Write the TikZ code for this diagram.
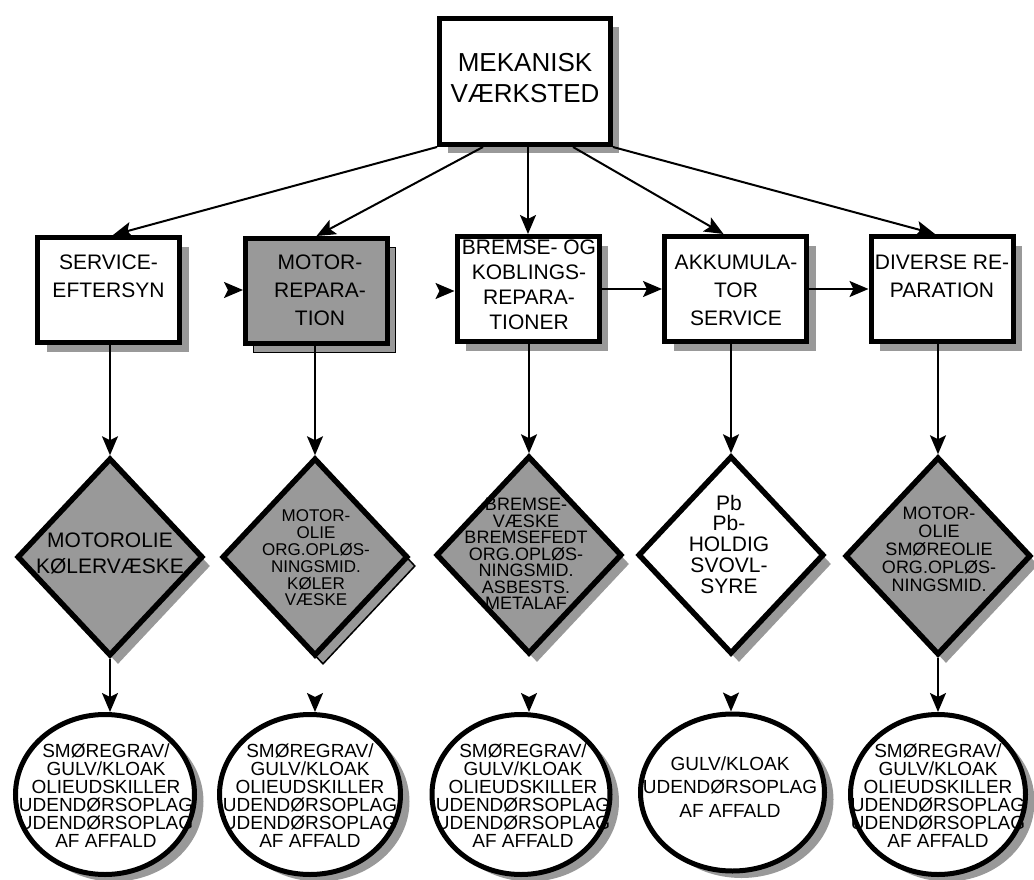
\documentclass[tikz,border=0pt]{standalone}
\usepackage{fontspec}
\setmainfont{Liberation Sans}
\usetikzlibrary{shapes.geometric,shadows,arrows.meta,backgrounds}
\definecolor{shadowgray}{RGB}{153,153,153}
\newcommand{\txtsize}[2]{\fontsize{#1}{#2}\selectfont}

\begin{document}
\begin{tikzpicture}[x=1pt,y=-1pt,
  flatshadow/.style={drop shadow={shadow xshift=#1, shadow yshift=-9pt, fill=shadowgray, opacity=1}},
  stackshadow/.style={general shadow={shadow xshift=8pt, shadow yshift=-9pt, fill=shadowgray, draw=black, line width=1.5pt}},
  boxbase/.style={rectangle, draw=black, line width=5pt, inner sep=0pt,
    minimum width=142pt, minimum height=105pt},
  procbox/.style={boxbase, fill=white, flatshadow=9pt},
  stackbox/.style={boxbase, fill=shadowgray, stackshadow},
  headbox/.style={boxbase, fill=white, minimum width=171pt, minimum height=126pt, flatshadow=8pt},
  diabase/.style={diamond, draw=black, line width=5.5pt, inner sep=0pt,
    minimum width=186pt, minimum height=198pt},
  waste/.style={diabase, fill=shadowgray, flatshadow=8pt},
  wastestack/.style={diabase, fill=shadowgray, stackshadow},
  cleanwaste/.style={diabase, fill=white, flatshadow=8pt},
  site/.style={ellipse, draw=black, line width=5pt, fill=white, inner sep=0pt,
    minimum height=160pt,
    drop shadow={shadow xshift=9pt, shadow yshift=-7pt, fill=shadowgray, opacity=1}},
  lbl/.style={align=center, inner sep=0pt},
  flow/.style={line width=2pt, -{Stealth[length=19pt, width=16pt, inset=4pt]}},
  headonly/.style={line width=2pt, draw=white,
    -{Stealth[length=19pt, width=16pt, inset=4pt, color=black]}}
]
\path[use as bounding box] (0,0) rectangle (1034,880);

% head of the tree
\node[headbox] (top) at (525,81.5) {};

% work areas
\node[procbox]  (svc)   at (108.5,290) {};
\node[stackbox] (motor) at (316.5,291) {};
\node[procbox]  (brk)   at (528,289) {};
\node[procbox]  (akk)   at (735.5,289) {};
\node[procbox]  (div)   at (942,289) {};

% waste types
\node[waste]      (d1) at (110,557) {};
\node[wastestack] (d2) at (315,557) {};
\node[waste]      (d3) at (529,555) {};
\node[cleanwaste] (d4) at (731,555) {};
\node[waste]      (d5) at (938,556) {};

% where the waste ends up
\node[site, minimum width=179pt] (e1) at (105,794.5) {};
\node[site, minimum width=181pt] (e2) at (310,794.5) {};
\node[site, minimum width=178pt] (e3) at (521,794.5) {};
\node[site, minimum width=184pt, minimum height=157pt] (e4) at (732.5,792.5) {};
\node[site, minimum width=175pt] (e5) at (938,794.5) {};

% connectors whose line is hidden, only the head shows
\begin{pgfonlayer}{background}
  \draw[headonly] (svc.east) -- (motor.west |- svc.east);
  \draw[headonly] (motor.east) -- (brk.west |- motor.east);
  \draw[headonly] (d2.south) -- (d2.south |- e2.north);
  \draw[headonly] (d3.south) -- (d3.south |- e3.north);
  \draw[headonly] (d4.south) -- (d4.south |- e4.north);
\end{pgfonlayer}

% fan-out from the head
\draw[flow] (top.south west) -- ([xshift=4.5pt]svc.north);
\draw[flow] ([xshift=46pt]top.south west) -- (motor.north);
\draw[flow] (brk.north |- top.south) -- (brk.north);
\draw[flow] ([xshift=136pt]top.south west) -- ([xshift=-12pt]akk.north);
\draw[flow] (top.south east) -- ([xshift=-7pt]div.north);

% chain between the work areas
\draw[flow] (brk.east) -- (akk.west |- brk.east);
\draw[flow] (akk.east) -- (div.west |- akk.east);

% work area to waste type
\draw[flow] (d1.north |- svc.south) -- (d1.north);
\draw[flow] (d2.north |- motor.south) -- (d2.north);
\draw[flow] (d3.north |- brk.south) -- (d3.north);
\draw[flow] (d4.north |- akk.south) -- (d4.north);
\draw[flow] (d5.north |- div.south) -- (d5.north);

% waste type to site
\draw[flow] (d1.south) -- (d1.south |- e1.north);
\draw[flow] (d5.south) -- (d5.south |- e5.north);

% texts
\node[lbl, font=\txtsize{26}{31}] (toptxt) at (525,78) {MEKANISK\\VÆRKSTED};

\node[lbl, anchor=north, font=\txtsize{21}{28}] (svctxt) at (108.5,255) {SERVICE-\\EFTERSYN};
\node[lbl, anchor=north, font=\txtsize{21}{28}] (motortxt) at (320,255) {MOTOR-\\REPARA-\\TION};
\node[lbl, anchor=north, font=\txtsize{21}{25}] (brktxt) at (529,240) {BREMSE- OG\\KOBLINGS-\\REPARA-\\TIONER};
\node[lbl, anchor=north, font=\txtsize{21}{28}] (akktxt) at (736,255) {AKKUMULA-\\TOR\\SERVICE};
\node[lbl, anchor=north, font=\txtsize{21}{28}] (divtxt) at (942,255) {DIVERSE RE-\\PARATION};

\node[lbl, font=\txtsize{21}{26}] (d1txt) at (110,553.5) {MOTOROLIE\\KØLERVÆSKE};
\node[lbl, font=\txtsize{17}{16.8}] (d2txt) at (316,558) {MOTOR-\\OLIE\\ORG.OPLØS-\\NINGSMID.\\KØLER\\VÆSKE};
\node[lbl, font=\txtsize{18}{16.5}] (d3txt) at (526,554) {BREMSE-\\VÆSKE\\BREMSEFEDT\\ORG.OPLØS-\\NINGSMID.\\ASBESTS.\\METALAF};
\node[lbl, font=\txtsize{21}{20.75}] (d4txt) at (729,544) {Pb\\Pb-\\HOLDIG\\SVOVL-\\SYRE};
\node[lbl, font=\txtsize{18}{18}] (d5txt) at (939,549.5) {MOTOR-\\OLIE\\SMØREOLIE\\ORG.OPLØS-\\NINGSMID.};

\node[lbl, font=\txtsize{19}{18}] (e1txt) at (106,796) {SMØREGRAV/\\GULV/KLOAK\\OLIEUDSKILLER\\UDENDØRSOPLAG\\UDENDØRSOPLAG\\AF AFFALD};
\node[lbl, font=\txtsize{19}{18}] (e2txt) at (310,796) {SMØREGRAV/\\GULV/KLOAK\\OLIEUDSKILLER\\UDENDØRSOPLAG\\UDENDØRSOPLAG\\AF AFFALD};
\node[lbl, font=\txtsize{19}{18}] (e3txt) at (523,796) {SMØREGRAV/\\GULV/KLOAK\\OLIEUDSKILLER\\UDENDØRSOPLAG\\UDENDØRSOPLAG\\AF AFFALD};
\node[lbl, font=\txtsize{19}{23.5}] (e4txt) at (730,787) {GULV/KLOAK\\UDENDØRSOPLAG\\AF AFFALD};
\node[lbl, font=\txtsize{19}{18}] (e5txt) at (938,796) {SMØREGRAV/\\GULV/KLOAK\\OLIEUDSKILLER\\UDENDØRSOPLAG\\UDENDØRSOPLAG\\AF AFFALD};
\end{tikzpicture}
\end{document}
